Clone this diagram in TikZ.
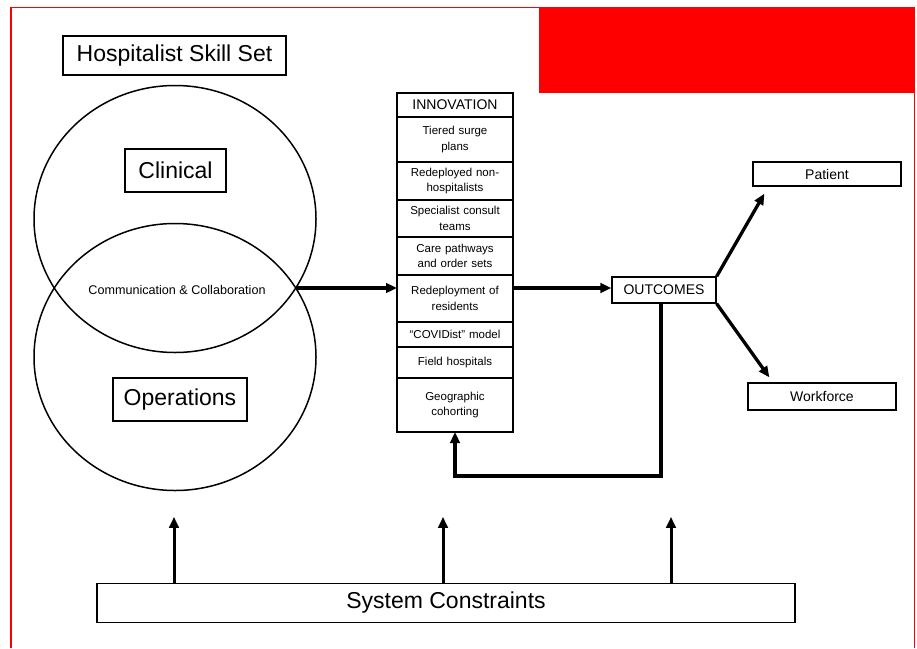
\documentclass[tikz,border=0pt]{standalone}
\usepackage{fontspec}
\setmainfont{Liberation Sans}
\usetikzlibrary{arrows.meta,calc}
\begin{document}
\begin{tikzpicture}[x=1pt,y=-1pt,
  box/.style={draw=black, line width=1.3pt, inner sep=0pt, align=center, fill=white},
  cell/.style={draw=black, line width=1.3pt, inner sep=0pt, outer sep=0pt, align=center, minimum width=116pt, text width=110pt, anchor=north, font=\fontsize{11.5}{15.5}\selectfont},
  arr/.style={line width=3.3pt, -{Triangle[length=11pt,width=9.5pt]}},
  big/.style={font=\fontsize{23}{27}\selectfont},
  mid/.style={font=\fontsize{14}{17}\selectfont}
]
\useasboundingbox (0,0) rectangle (917,648);
% red frame and red block
\fill[red] (539,7) rectangle (915,93);
\draw[red, line width=1.5pt] (11,648) -- (11,7.5) -- (914.5,7.5) -- (914.5,648);

% title
\node[box, big, minimum width=223pt, minimum height=39pt] (title) at (174.5,55.5) {Hospitalist Skill Set};

% Venn ellipses
\draw[line width=1.5pt] (175,219) ellipse [x radius=141, y radius=133.5];
\draw[line width=1.5pt] (175,357) ellipse [x radius=141, y radius=133.5];
\node[box, big, minimum width=101pt, minimum height=43pt] (clin) at (175.5,170.5) {Clinical};
\node[box, big, minimum width=134pt, minimum height=43pt] (ops) at (180,399.5) {Operations};
\node[font=\fontsize{12.6}{15}\selectfont, inner sep=0pt] (comm) at (177,290) {Communication \& Collaboration};
\coordinate (cc) at (295.7,288);

% innovation column
\node[cell, minimum height=24pt, font=\fontsize{14}{17}\selectfont] (inn0) at (455,93) {INNOVATION};
\node[cell, minimum height=45pt] (inn1) at (inn0.south) {Tiered surge\\plans};
\node[cell, minimum height=38pt] (inn2) at (inn1.south) {Redeployed non-\\hospitalists};
\node[cell, minimum height=37pt] (inn3) at (inn2.south) {Specialist consult\\teams};
\node[cell, minimum height=38pt] (inn4) at (inn3.south) {Care pathways\\and order sets};
\node[cell, minimum height=47pt] (inn5) at (inn4.south) {Redeployment of\\residents\\[4pt]};
\node[cell, minimum height=25pt] (inn6) at (inn5.south) {``COVIDist'' model};
\node[cell, minimum height=31pt] (inn7) at (inn6.south) {Field hospitals\\[5pt]};
\node[cell, minimum height=54pt] (inn8) at (inn7.south) {Geographic\\cohorting\\[3pt]};

% outcomes
\node[box, mid, minimum width=104pt, minimum height=26pt] (out) at (664,290) {OUTCOMES};
\node[box, mid, minimum width=148pt, minimum height=24pt] (pat) at (827,174) {Patient};
\node[box, mid, minimum width=148pt, minimum height=27pt] (wf) at (822,396.5) {Workforce};

% system constraints
\node[box, big, minimum width=698pt, minimum height=39pt] (sys) at (446,603) {System Constraints};

% connectors
\draw[arr] (cc) -- (inn5.west |- cc);
\draw[arr] (inn5.east |- cc) -- (out.west |- cc);
\draw[arr] (out.north east) -- ($(pat.south west)+(12,7)$);
\draw[arr] (out.south east) -- ($(wf.north west)+(22,-5)$);
\draw[arr, line width=3.8pt] ([xshift=-3pt]out.south) -- ++(0,172) -| (inn8.south);
\draw[arr, line width=3pt] ([xshift=-272pt]sys.north) -- ++(0,-66);
\draw[arr, line width=3pt] ([xshift=-3pt]sys.north) -- ++(0,-66);
\draw[arr, line width=3pt] ([xshift=225pt]sys.north) -- ++(0,-66);
\end{tikzpicture}
\end{document}
